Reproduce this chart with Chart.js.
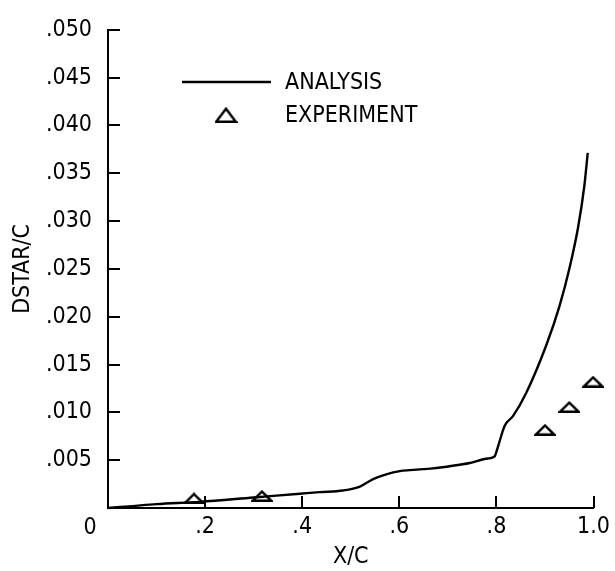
<!DOCTYPE html>
<html>
<head>
<meta charset="utf-8">
<script src="https://cdn.jsdelivr.net/npm/chart.js@4"></script>
<style>
  html, body { margin: 0; padding: 0; background: #fff; }
  #wrap { width: 615px; height: 571px; }
</style>
</head>
<body>
<div id="wrap"><canvas id="c" width="615" height="571"></canvas></div>
<script>
// ---- data ----
const analysisX = [0, 0.05, 0.1, 0.189, 0.3, 0.395, 0.436, 0.484, 0.519, 0.546, 0.573, 0.601, 0.621, 0.669, 0.704, 0.745, 0.779, 0.796, 0.803, 0.817, 0.834, 0.861, 0.903, 0.930, 0.951, 0.968, 0.981, 0.988];
const analysisY = [0, 0.0002, 0.0004, 0.00064, 0.0011, 0.00149, 0.00166, 0.00183, 0.00224, 0.00302, 0.00352, 0.00386, 0.00396, 0.00414, 0.00437, 0.00471, 0.00515, 0.00539, 0.0064, 0.0086, 0.0096, 0.0120, 0.01707, 0.02114, 0.0252, 0.0293, 0.03367, 0.03712];
const experimentX = [0.177, 0.317, 0.900, 0.950, 0.999];
const experimentY = [0.0010, 0.00127, 0.00818, 0.01057, 0.01321];
const seriesLabels = ['ANALYSIS', 'EXPERIMENT'];
const xTickLabels = ['0', '.2', '.4', '.6', '.8', '1.0'];
const yTickLabels = ['0', '.005', '.010', '.015', '.020', '.025', '.030', '.035', '.040', '.045', '.050'];
const xTitle = 'X/C';
const yTitle = 'DSTAR/C';

const FONT = "'DejaVu Sans Condensed', 'Liberation Sans Narrow', 'DejaVu Sans', sans-serif";
const FSIZE = 23;

function triangleCanvas(w, h, lw) {
  const cv = document.createElement('canvas');
  cv.width = w; cv.height = h;
  const c = cv.getContext('2d');
  c.strokeStyle = '#000';
  c.lineWidth = lw;
  c.lineJoin = 'miter';
  c.beginPath();
  c.moveTo(lw / 2 + 0.5, h - lw / 2);
  c.lineTo(w / 2, lw / 2 + 0.5);
  c.lineTo(w - lw / 2 - 0.5, h - lw / 2);
  c.closePath();
  c.stroke();
  return cv;
}
const triPoint = triangleCanvas(22, 12, 2.4);
const triLegend = triangleCanvas(23, 16, 2.4);

const inwardTicks = {
  id: 'inwardTicks',
  afterDraw(chart) {
    const ctx = chart.ctx;
    const xs = chart.scales.x, ys = chart.scales.y;
    const area = chart.chartArea;
    ctx.save();
    ctx.strokeStyle = '#000';
    ctx.lineWidth = 2;
    ys.ticks.forEach((t, i) => {
      if (i === 0) return;
      const y = Math.round(ys.getPixelForValue(t.value));
      ctx.beginPath();
      ctx.moveTo(area.left, y);
      ctx.lineTo(area.left + 12, y);
      ctx.stroke();
    });
    xs.ticks.forEach((t, i) => {
      if (i === 0) return;
      const x = Math.round(xs.getPixelForValue(t.value));
      ctx.beginPath();
      ctx.moveTo(x, area.bottom);
      ctx.lineTo(x, area.bottom - 12);
      ctx.stroke();
    });
    // origin label
    ctx.fillStyle = '#000';
    ctx.font = FSIZE + 'px ' + FONT;
    ctx.textAlign = 'center';
    ctx.textBaseline = 'middle';
    ctx.fillText(xTickLabels[0], xs.getPixelForValue(0) - 18, ys.getPixelForValue(0) + 20);
    ctx.restore();
  }
};

const customLegend = {
  id: 'customLegend',
  afterDraw(chart) {
    const ctx = chart.ctx;
    ctx.save();
    ctx.fillStyle = '#000';
    ctx.strokeStyle = '#000';
    ctx.font = FSIZE + 'px ' + FONT;
    ctx.textAlign = 'left';
    ctx.textBaseline = 'middle';
    ctx.lineWidth = 2.4;
    ctx.beginPath();
    ctx.moveTo(182, 82);
    ctx.lineTo(271, 82);
    ctx.stroke();
    ctx.fillText(chart.data.datasets[0].label, 285, 83);
    ctx.drawImage(triLegend, 226 - triLegend.width / 2, 115 - triLegend.height / 2);
    ctx.fillText(chart.data.datasets[1].label, 285, 116);
    ctx.restore();
  }
};

new Chart(document.getElementById('c'), {
  type: 'scatter',
  data: {
    datasets: [
      {
        label: seriesLabels[0],
        data: analysisX.map((x, i) => ({ x, y: analysisY[i] })),
        showLine: true,
        borderColor: '#000',
        borderWidth: 2.4,
        pointRadius: 0,
        cubicInterpolationMode: 'monotone',
        fill: false,
        clip: false
      },
      {
        label: seriesLabels[1],
        data: experimentX.map((x, i) => ({ x, y: experimentY[i] })),
        showLine: false,
        pointStyle: triPoint,
        pointRadius: 10,
        borderColor: '#000',
        backgroundColor: 'rgba(0,0,0,0)',
        clip: false
      }
    ]
  },
  options: {
    responsive: false,
    animation: false,
    devicePixelRatio: 1,
    layout: { padding: { top: 16, right: 21, left: 0, bottom: 0 } },
    plugins: {
      legend: { display: false },
      tooltip: { enabled: false }
    },
    scales: {
      x: {
        type: 'linear',
        min: 0, max: 1,
        afterFit(s) { s.height = 63; },
        border: { display: true, color: '#000', width: 2 },
        grid: { display: false, drawTicks: false },
        ticks: {
          stepSize: 0.2,
          padding: 5,
          color: '#000',
          font: { family: FONT, size: FSIZE },
          maxRotation: 0,
          callback: (v, i) => i === 0 ? '' : xTickLabels[i]
        },
        title: {
          display: true,
          text: xTitle,
          color: '#000',
          font: { family: FONT, size: FSIZE },
          padding: { top: 0, bottom: 0 }
        }
      },
      y: {
        type: 'linear',
        min: 0, max: 0.05,
        afterFit(s) { s.width = 108; },
        border: { display: true, color: '#000', width: 2 },
        grid: { display: false, drawTicks: false },
        ticks: {
          stepSize: 0.005,
          padding: 16,
          color: '#000',
          font: { family: FONT, size: FSIZE },
          callback: (v, i) => i === 0 ? '' : yTickLabels[i]
        },
        title: {
          display: true,
          text: yTitle,
          color: '#000',
          font: { family: FONT, size: FSIZE },
          padding: { top: 9, bottom: 0 }
        }
      }
    }
  },
  plugins: [inwardTicks, customLegend]
});
</script>
</body>
</html>
